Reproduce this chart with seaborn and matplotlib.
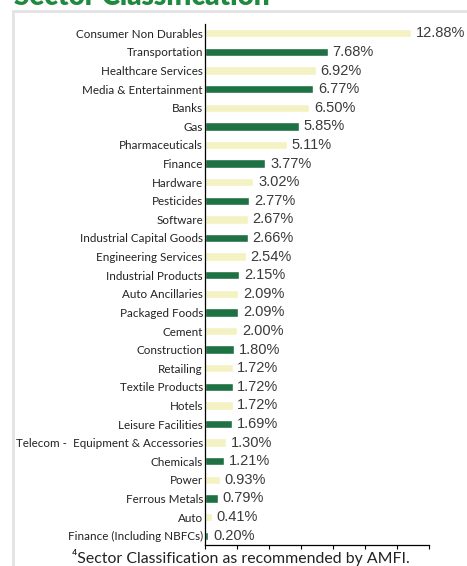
import matplotlib
matplotlib.use("Agg")
import matplotlib.pyplot as plt
import seaborn as sns
import pandas as pd
from matplotlib.patches import Rectangle

categories = ["Consumer Non Durables", "Transportation", "Healthcare Services",
              "Media & Entertainment", "Banks", "Gas", "Pharmaceuticals", "Finance",
              "Hardware", "Pesticides", "Software", "Industrial Capital Goods",
              "Engineering Services", "Industrial Products", "Auto Ancillaries",
              "Packaged Foods", "Cement", "Construction", "Retailing",
              "Textile Products", "Hotels", "Leisure Facilities",
              "Telecom -  Equipment & Accessories", "Chemicals", "Power",
              "Ferrous Metals", "Auto", "Finance (Including NBFCs)"]
values = [12.88, 7.68, 6.92, 6.77, 6.50, 5.85, 5.11, 3.77, 3.02, 2.77, 2.67, 2.66,
          2.54, 2.15, 2.09, 2.09, 2.00, 1.80, 1.72, 1.72, 1.72, 1.69, 1.30, 1.21,
          0.93, 0.79, 0.41, 0.20]
value_labels = [f"{v:.2f}%" for v in values]

LIGHT = "#F4F2C2"
DARK = "#1E7143"
colors = [LIGHT if i % 2 == 0 else DARK for i in range(len(categories))]

df = pd.DataFrame({"category": categories, "value": values})

sns.set_theme(style="white")
plt.rcParams["font.family"] = ["Lato", "DejaVu Sans"]

fig = plt.figure(figsize=(4.67, 5.66), dpi=100)
ax = fig.add_axes([205/467, 1-545/566, (429-205)/467, (545-24)/566])

sns.barplot(data=df, x="value", y="category", hue="category", palette=colors,
            order=categories, hue_order=categories, legend=False, width=0.45,
            saturation=1, ax=ax)

for i, (v, lab) in enumerate(zip(values, value_labels)):
    ax.text(v + 0.3, i, lab, va="center", ha="left", fontsize=10.5,
            family=["Liberation Sans"], color="#3a3a3a")

ax.set_xlim(0, 14)
ax.set_ylim(len(categories) - 0.5, -0.5)
ax.set_xticks(range(0, 15, 2))
ax.set_xticklabels([])
ax.set_xlabel("")
ax.set_ylabel("")
ax.tick_params(axis="x", direction="out", length=3, width=0.8, color="black", bottom=True)
ax.tick_params(axis="y", length=0, pad=1.5, labelsize=8.4, labelcolor="#222222")
for s in ["top", "right"]:
    ax.spines[s].set_visible(False)
for s in ["left", "bottom"]:
    ax.spines[s].set_color("black")
    ax.spines[s].set_linewidth(0.9)

# panel border
fig.patches.append(Rectangle((13/467, -0.1), 1.2, 1 - 11/566 + 0.1, transform=fig.transFigure,
                             fill=False, edgecolor="#E3E3E3", linewidth=2.0, zorder=0))

fig.text(0.03, 1 - 5/566, "Sector Classification", color="#1E8A3E", fontsize=20,
         fontweight="heavy", ha="left", va="baseline")
fig.text(241/467, 1 - 557/566, "\u2074Sector Classification as recommended by AMFI.",
         ha="center", va="center", fontsize=11.4, color="#222222")

fig.savefig("out.png", dpi=100)
